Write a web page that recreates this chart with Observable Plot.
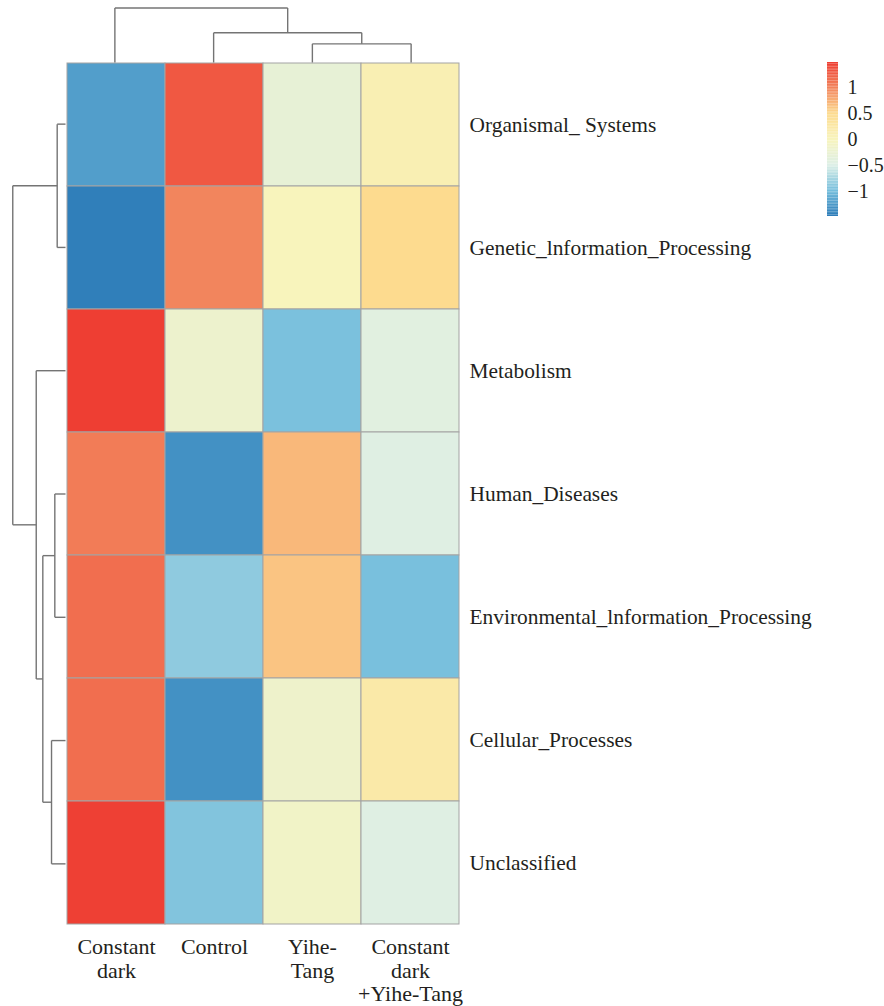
<!DOCTYPE html>
<html>
<head>
<meta charset="utf-8">
<script src="https://cdn.jsdelivr.net/npm/d3@7"></script>
<script src="https://cdn.jsdelivr.net/npm/@observablehq/plot@0.6"></script>
<style>
  html, body { margin: 0; padding: 0; background: #fff; }
  #wrap { position: relative; width: 884px; height: 1006px; overflow: hidden; }
  #wrap > svg { position: absolute; overflow: visible; }
  #wrap svg, #wrap svg text { font-family: "Liberation Serif", "DejaVu Serif", serif !important; }
  #wrap svg text { fill: #231f20; }
</style>
</head>
<body>
<div id="wrap"></div>
<script>
// ---- data ----
const rows = ["Organismal_ Systems", "Genetic_lnformation_Processing", "Metabolism", "Human_Diseases",
  "Environmental_lnformation_Processing", "Cellular_Processes", "Unclassified"];
const cols = ["Constant dark", "Control", "Yihe-Tang", "Constant dark +Yihe-Tang"];
const colLabels = ["Constant\ndark", "Control", "Yihe-\nTang", "Constant\ndark\n+Yihe-Tang"];

const constantDark = [-1.22, -1.45, 1.48, 1.05, 1.15, 1.15, 1.47];
const control      = [ 1.30,  0.99, -0.20, -1.32, -0.86, -1.32, -0.92];
const yiheTang     = [-0.30,  0.00, -0.95,  0.70,  0.63, -0.17, -0.12];
const cdYiheTang   = [ 0.10,  0.50, -0.42, -0.45, -0.96,  0.22, -0.45];
const series = [constantDark, control, yiheTang, cdYiheTang];

// hclust-style merges (negative = leaf in display order, positive = earlier merge)
const rowMerge = [[-1, -2], [-4, -5], [-6, -7], [2, 3], [-3, 4], [1, 5]];
const rowHeight = [0.63, 0.81, 1.06, 1.72, 2.22, 4.0];
const colMerge = [[-3, -4], [-2, 1], [-1, 2]];
const colHeight = [1.37, 2.18, 4.0];

const legendTicks = [-1, -0.5, 0, 0.5, 1];
const colorDomain = [-1.48, -0.985, -0.49, 0.005, 0.5, 0.995, 1.49];
const colorRange = ["#2c7bb8", "#74bedc", "#ddefe6", "#f8f4bc", "#fddb8f", "#f2845c", "#ee3d32"];

// ---- build ----
const cells = [];
cols.forEach((c, j) => rows.forEach((r, i) => cells.push({col: c, row: r, value: series[j][i]})));

function dendroSegments(merge, heights) {
  const pos = [], hgt = [], segs = [];
  const info = k => k < 0 ? {p: -k - 1 + 0.5, h: 0} : {p: pos[k - 1], h: hgt[k - 1]};
  merge.forEach(([a, b], i) => {
    const A = info(a), B = info(b), h = heights[i];
    segs.push({p1: A.p, h1: A.h, p2: A.p, h2: h});
    segs.push({p1: B.p, h1: B.h, p2: B.p, h2: h});
    segs.push({p1: A.p, h1: h, p2: B.p, h2: h});
    pos.push((A.p + B.p) / 2); hgt.push(h);
  });
  return segs;
}

const color = {type: "linear", domain: colorDomain, range: colorRange, interpolate: "rgb"};
const style = {background: "transparent", overflow: "visible"};
const wrap = document.getElementById("wrap");
const fmt = d => (d < 0 ? "\u2212" : "") + Math.abs(d);

// heatmap
const main = Plot.plot({
  width: 884, height: 1006,
  marginLeft: 65, marginRight: 424, marginTop: 62, marginBottom: 81,
  style,
  x: {domain: cols, padding: 0, axis: null, label: null},
  y: {domain: rows, padding: 0, axis: null, label: null},
  color,
  marks: [
    Plot.cell(cells, {x: "col", y: "row", fill: "value", stroke: "#a3a3a3", strokeWidth: 1, inset: 0}),
    Plot.axisX({anchor: "bottom", label: null, tickSize: 0, tickPadding: 11, fontSize: 22, lineHeight: 1.09,
      tickFormat: d => colLabels[cols.indexOf(d)]}),
    Plot.axisY({anchor: "right", label: null, tickSize: 0, tickPadding: 9, fontSize: 21.4, tickFormat: d => d})
  ]
});
main.style.left = "0px"; main.style.top = "0px";
wrap.appendChild(main);

// row dendrogram
const rowSegs = dendroSegments(rowMerge, rowHeight);
const rowDen = Plot.plot({
  width: 65, height: 863, margin: 0,
  style,
  x: {domain: [4.93, 0], range: [0, 65], axis: null},
  y: {domain: [0, rows.length], range: [0, 863], axis: null},
  marks: [Plot.link(rowSegs, {x1: "h1", y1: "p1", x2: "h2", y2: "p2", stroke: "#747474", strokeWidth: 1.4})]
});
rowDen.style.left = "0px"; rowDen.style.top = "62px";
wrap.appendChild(rowDen);

// column dendrogram
const colSegs = dendroSegments(colMerge, colHeight);
const colDen = Plot.plot({
  width: 395, height: 62, margin: 0,
  style,
  x: {domain: [0, cols.length], range: [0, 395], axis: null},
  y: {domain: [0, 4.55], range: [62, 0], axis: null},
  marks: [Plot.link(colSegs, {x1: "p1", y1: "h1", x2: "p2", y2: "h2", stroke: "#747474", strokeWidth: 1.4})]
});
colDen.style.left = "65px"; colDen.style.top = "0px";
wrap.appendChild(colDen);

// legend (vertical colour bar)
const lo = colorDomain[0], hi = colorDomain[colorDomain.length - 1], n = 100;
const steps = d3.range(n).map(i => ({y1: lo + (hi - lo) * i / n, y2: lo + (hi - lo) * (i + 1) / n, v: lo + (hi - lo) * (i + 0.5) / n}));
const legend = Plot.plot({
  width: 84, height: 230,
  marginLeft: 27, marginRight: 46, marginTop: 62, marginBottom: 14,
  style,
  x: {domain: [0, 1], axis: null},
  y: {domain: [lo, hi], axis: null, label: null},
  color,
  marks: [
    Plot.rect(steps, {x1: 0, x2: 1, y1: "y1", y2: "y2", fill: "v"}),
    Plot.axisY(legendTicks, {anchor: "right", label: null, tickSize: 0, tickPadding: 9, fontSize: 20, tickFormat: fmt})
  ]
});
legend.style.left = "800px"; legend.style.top = "0px";
wrap.appendChild(legend);
</script>
</body>
</html>
